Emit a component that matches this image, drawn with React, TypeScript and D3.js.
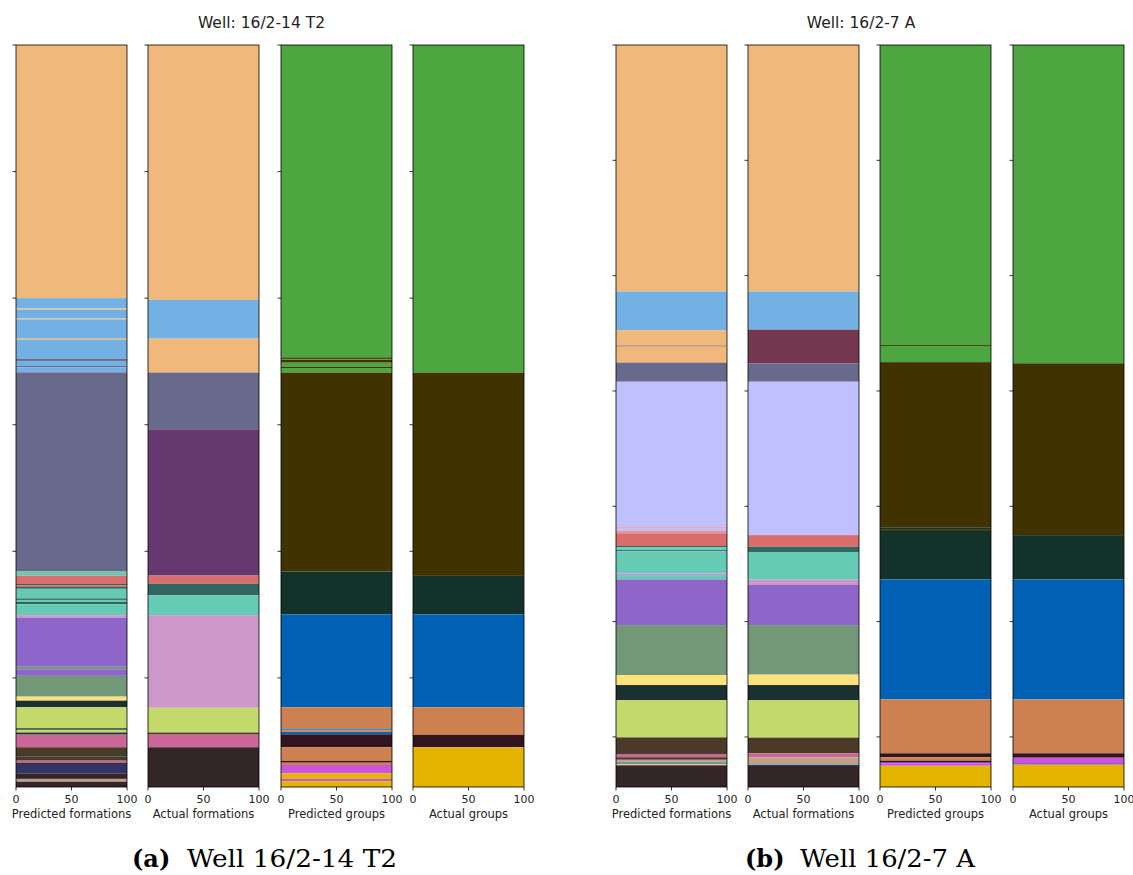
import React from 'react';
import * as d3 from 'd3';

// colour of each formation / group code
const palette: Record<string, string> = {
  orange: '#f0b97b',
  sky: '#73b0e3',
  slate: '#696a8b',
  plum: '#653970',
  salmon: '#d96d6b',
  teal: '#66cbb5',
  darkTeal: '#316660',
  lilac: '#ce97c9',
  purple: '#8e66ca',
  sage: '#739877',
  yellow: '#ffe27a',
  darkSlate: '#1b3030',
  lime: '#c3d96c',
  pink: '#cc6699',
  brown: '#4b3a28',
  navy: '#333366',
  dark: '#332629',
  tan: '#bfa08a',
  lavender: '#c0bfff',
  wine: '#733750',
  rose: '#e8929a',
  violet: '#dd88dd',
  greyTeal: '#6a9a90',
  steelLine: '#6fa0c0',
  greyBrown: '#9a8070',
  green: '#4ea640',
  olive: '#403300',
  forest: '#13332a',
  blue: '#0061b5',
  copper: '#cd8050',
  maroon: '#31141d',
  magenta: '#cc55dd',
  indigo: '#7733cc',
  gold: '#e3b500',
  steel: '#5e7a9a',
};

// [top depth (m below first tick), code]
const w1PredFormations: [number, string][] = [
  [0, 'orange'], [1000, 'sky'], [1040, 'orange'], [1045, 'sky'], [1080, 'orange'], [1084, 'sky'],
  [1160, 'orange'], [1165, 'sky'], [1239, 'slate'], [1248, 'sky'], [1268, 'slate'], [1273, 'sky'],
  [1293, 'slate'], [2080, 'teal'], [2096, 'salmon'], [2129, 'darkTeal'], [2135, 'salmon'],
  [2141, 'darkTeal'], [2148, 'teal'], [2186, 'darkTeal'], [2192, 'teal'], [2200, 'darkTeal'],
  [2209, 'teal'], [2252, 'lilac'], [2262, 'purple'], [2456, 'sage'], [2466, 'purple'], [2492, 'sage'],
  [2574, 'yellow'], [2590, 'darkSlate'], [2616, 'lime'], [2699, 'darkSlate'], [2705, 'lime'],
  [2716, 'darkSlate'], [2724, 'pink'], [2774, 'brown'], [2805, 'darkSlate'], [2811, 'brown'],
  [2827, 'pink'], [2835, 'dark'], [2840, 'navy'], [2877, 'dark'], [2899, 'tan'], [2910, 'dark'],
];
const w1ActFormations: [number, string][] = [
  [0, 'orange'], [1007, 'sky'], [1160, 'orange'], [1294, 'slate'], [1518, 'plum'], [2096, 'salmon'],
  [2128, 'darkTeal'], [2174, 'teal'], [2252, 'lilac'], [2618, 'lime'], [2716, 'brown'], [2724, 'pink'],
  [2774, 'dark'],
];
const w1PredGroups: [number, string][] = [
  [0, 'green'], [1234, 'olive'], [1240, 'green'], [1244, 'olive'], [1255, 'green'], [1271, 'olive'],
  [1276, 'green'], [1294, 'olive'], [2080, 'forest'], [2249, 'blue'], [2616, 'copper'], [2699, 'steel'],
  [2707, 'copper'], [2714, 'blue'], [2723, 'maroon'], [2774, 'copper'], [2828, 'maroon'],
  [2835, 'copper'], [2844, 'magenta'], [2877, 'gold'], [2899, 'magenta'], [2908, 'gold'],
];
const w1ActGroups: [number, string][] = [
  [0, 'green'], [1294, 'olive'], [2097, 'forest'], [2249, 'blue'], [2616, 'copper'], [2725, 'maroon'],
  [2774, 'gold'],
];

const w2PredFormations: [number, string][] = [
  [0, 'orange'], [1069, 'sky'], [1237, 'orange'], [1302, 'greyBrown'], [1308, 'orange'], [1377, 'slate'],
  [1460, 'lavender'], [2091, 'rose'], [2097, 'lavender'], [2107, 'rose'], [2117, 'salmon'],
  [2172, 'darkTeal'], [2178, 'teal'], [2190, 'darkTeal'], [2195, 'teal'], [2291, 'violet'], [2298, 'teal'],
  [2317, 'purple'], [2515, 'sage'], [2732, 'yellow'], [2775, 'darkSlate'], [2840, 'lime'], [3002, 'brown'],
  [3074, 'pink'], [3088, 'brown'], [3099, 'tan'], [3108, 'greyTeal'], [3118, 'orange'], [3123, 'dark'],
];
const w2ActFormations: [number, string][] = [
  [0, 'orange'], [1069, 'sky'], [1234, 'wine'], [1380, 'slate'], [1460, 'lavender'], [2125, 'salmon'],
  [2175, 'darkTeal'], [2198, 'teal'], [2318, 'lilac'], [2341, 'purple'], [2515, 'sage'], [2730, 'yellow'],
  [2775, 'darkSlate'], [2840, 'lime'], [3003, 'brown'], [3071, 'pink'], [3088, 'tan'], [3118, 'steelLine'],
  [3122, 'dark'],
];
const w2PredGroups: [number, string][] = [
  [0, 'green'], [1301, 'olive'], [1305, 'green'], [1375, 'olive'], [2091, 'forest'], [2099, 'olive'],
  [2107, 'forest'], [2317, 'blue'], [2837, 'copper'], [3071, 'maroon'], [3088, 'copper'], [3103, 'maroon'],
  [3109, 'indigo'], [3115, 'magenta'], [3125, 'gold'],
];
const w2ActGroups: [number, string][] = [
  [0, 'green'], [1380, 'olive'], [2125, 'forest'], [2317, 'blue'], [2837, 'copper'], [3071, 'maroon'],
  [3090, 'magenta'], [3114, 'indigo'], [3120, 'gold'],
];

const columnLabels = ['Predicted formations', 'Actual formations', 'Predicted groups', 'Actual groups'];
const xTicks = [0, 50, 100];

const wells = [
  {
    title: 'Well: 16/2-14 T2', tag: '(a)', caption: 'Well 16/2-14 T2',
    depth: 2931, depthTicks: [0, 500, 1000, 1500, 2000, 2500],
    columns: [w1PredFormations, w1ActFormations, w1PredGroups, w1ActGroups],
    left: [16, 148, 281, 413], titleX: 261.5, tagX: 132, captionX: 187, captionW: 210,
  },
  {
    title: 'Well: 16/2-7 A', tag: '(b)', caption: 'Well 16/2-7 A',
    depth: 3217, depthTicks: [0, 500, 1000, 1500, 2000, 2500, 3000],
    columns: [w2PredFormations, w2ActFormations, w2PredGroups, w2ActGroups],
    left: [616, 748, 880, 1013], titleX: 861, tagX: 745, captionX: 800, captionW: 175,
  },
];

const TOP = 45;
const BOTTOM = 787;
const COL_W = 111;
const sans = 'DejaVu Sans, sans-serif';

const Column = ({ bands, x0, depth, depthTicks, label }) => {
  const x = d3.scaleLinear().domain([0, 100]).range([x0, x0 + COL_W]);
  const y = d3.scaleLinear().domain([0, depth]).range([TOP, BOTTOM]);
  return (
    <g>
      {bands.map(([top, code], i) => {
        const bottom = i + 1 < bands.length ? bands[i + 1][0] : depth;
        return (
          <rect key={i} x={x(0)} width={x(100) - x(0)} y={y(top)} height={y(bottom) - y(top)}
            fill={palette[code]} />
        );
      })}
      <rect x={x(0)} y={TOP} width={x(100) - x(0)} height={BOTTOM - TOP} fill="none" stroke="#000" strokeWidth={0.8} />
      {depthTicks.map(t => (
        <line key={t} x1={x(0) - 3.5} x2={x(0)} y1={y(t)} y2={y(t)} stroke="#000" strokeWidth={0.8} />
      ))}
      {xTicks.map(t => (
        <g key={t}>
          <line x1={x(t)} x2={x(t)} y1={BOTTOM} y2={BOTTOM + 3.5} stroke="#000" strokeWidth={0.8} />
          <text x={x(t)} y={802.5} textAnchor="middle" fontFamily={sans} fontSize={11} fill="#222">{t}</text>
        </g>
      ))}
      <text x={x(50)} y={818} textAnchor="middle" fontFamily={sans} fontSize={11.5} fill="#222">{label}</text>
    </g>
  );
};

export default function App() {
  return (
    <svg width={1133} height={875} style={{ position: 'absolute', left: 0, top: 0, background: '#fff' }}>
      {wells.map(w => (
        <g key={w.title}>
          <text x={w.titleX} y={27.5} textAnchor="middle" fontFamily={sans} fontSize={15.5} fill="#222">{w.title}</text>
          {w.columns.map((bands, i) => (
            <Column key={i} bands={bands} x0={w.left[i]} depth={w.depth} depthTicks={w.depthTicks} label={columnLabels[i]} />
          ))}
          <text x={w.tagX} y={866.5} fontFamily="DejaVu Serif, serif" fontWeight="bold" fontSize={24} fill="#000">{w.tag}</text>
          <text x={w.captionX} y={866.5} fontFamily="DejaVu Serif, serif" fontSize={24} fill="#000"
            textLength={w.captionW} lengthAdjust="spacingAndGlyphs">{w.caption}</text>
        </g>
      ))}
    </svg>
  );
}
